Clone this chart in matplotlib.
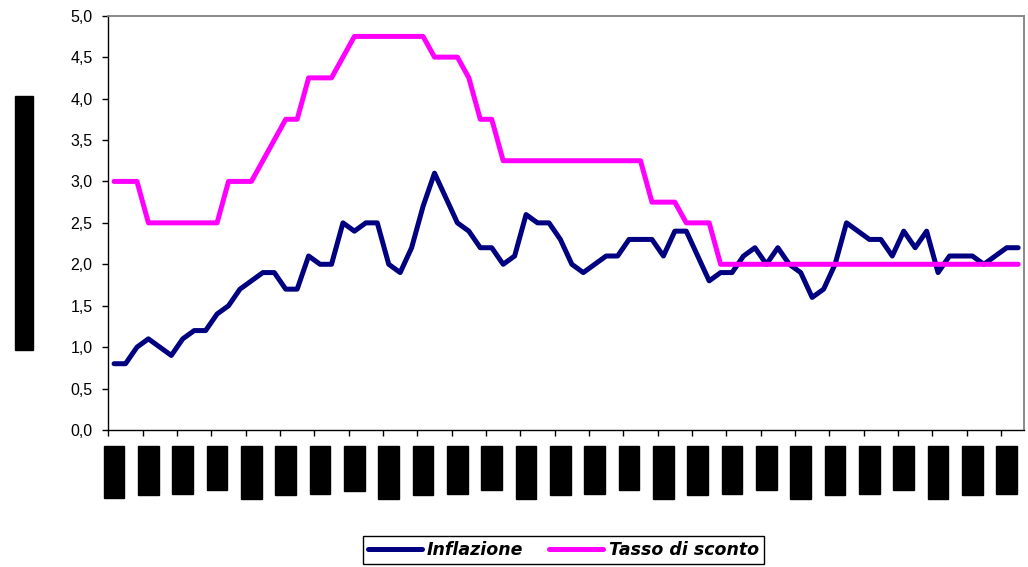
import numpy as np
import matplotlib
matplotlib.use('Agg')
import matplotlib.pyplot as plt
from matplotlib.ticker import FuncFormatter

# serie mensili da gennaio 1999 ad agosto 2005
mesi = ['gen', 'feb', 'mar', 'apr', 'mag', 'giu',
        'lug', 'ago', 'set', 'ott', 'nov', 'dic']
anni = ['99', '00', '01', '02', '03', '04', '05']
periodi = [f'{m}-{a}' for a in anni for m in mesi][:80]

inflazione = [
    0.8, 0.8, 1.0, 1.1, 1.0, 0.9, 1.1, 1.2, 1.2, 1.4, 1.5, 1.7,
    1.8, 1.9, 1.9, 1.7, 1.7, 2.1, 2.0, 2.0, 2.5, 2.4, 2.5, 2.5,
    2.0, 1.9, 2.2, 2.7, 3.1, 2.8, 2.5, 2.4, 2.2, 2.2, 2.0, 2.1,
    2.6, 2.5, 2.5, 2.3, 2.0, 1.9, 2.0, 2.1, 2.1, 2.3, 2.3, 2.3,
    2.1, 2.4, 2.4, 2.1, 1.8, 1.9, 1.9, 2.1, 2.2, 2.0, 2.2, 2.0,
    1.9, 1.6, 1.7, 2.0, 2.5, 2.4, 2.3, 2.3, 2.1, 2.4, 2.2, 2.4,
    1.9, 2.1, 2.1, 2.1, 2.0, 2.1, 2.2, 2.2,
]

tasso_sconto = [
    3.0, 3.0, 3.0, 2.5, 2.5, 2.5, 2.5, 2.5, 2.5, 2.5, 3.0, 3.0,
    3.0, 3.25, 3.5, 3.75, 3.75, 4.25, 4.25, 4.25, 4.5, 4.75, 4.75, 4.75,
    4.75, 4.75, 4.75, 4.75, 4.5, 4.5, 4.5, 4.25, 3.75, 3.75, 3.25, 3.25,
    3.25, 3.25, 3.25, 3.25, 3.25, 3.25, 3.25, 3.25, 3.25, 3.25, 3.25, 2.75,
    2.75, 2.75, 2.5, 2.5, 2.5, 2.0, 2.0, 2.0, 2.0, 2.0, 2.0, 2.0,
    2.0, 2.0, 2.0, 2.0, 2.0, 2.0, 2.0, 2.0, 2.0, 2.0, 2.0, 2.0,
    2.0, 2.0, 2.0, 2.0, 2.0, 2.0, 2.0, 2.0,
]

etichetta_y = 'Variazioni percentuali sul periodo corrispondente'

plt.rcParams['font.family'] = ['Liberation Sans', 'DejaVu Sans']

fig = plt.figure(figsize=(10.28, 5.67), dpi=100)
ax = fig.add_axes([0.1054, 0.2416, 0.8906, 0.7307])

x = np.arange(len(periodi))
ax.plot(x, inflazione, color='#000080', lw=3.6, label='Inflazione',
        solid_joinstyle='round', solid_capstyle='round')
ax.plot(x, tasso_sconto, color='#FF00FF', lw=3.6, label='Tasso di sconto',
        solid_joinstyle='round', solid_capstyle='round')

ax.set_xlim(-0.5, len(periodi) - 0.5)
ax.set_ylim(0, 5)
ax.set_yticks(np.arange(0, 5.01, 0.5))
ax.yaxis.set_major_formatter(FuncFormatter(lambda v, p: f'{v:.1f}'.replace('.', ',')))
ax.tick_params(axis='y', direction='out', length=4.5, width=1, labelsize=11.5, pad=7)

# tacche tra le categorie, etichette trimestrali
ax.set_xticks(np.arange(-0.5, len(periodi) - 1, 3))
ax.set_xticklabels([])
ax.tick_params(axis='x', which='major', direction='out', length=4, width=1)
ax.set_xticks(x[::3], minor=True)
ax.set_xticklabels(periodi[::3], minor=True, rotation=90, fontsize=10.5,
                   bbox=dict(boxstyle='square,pad=0.23', fc='black', ec='black'))
ax.tick_params(axis='x', which='minor', length=0, pad=14)

for s in ['top', 'right']:
    ax.spines[s].set_color('#808080')
    ax.spines[s].set_linewidth(1.3)
for s in ['left', 'bottom']:
    ax.spines[s].set_color('black')
    ax.spines[s].set_linewidth(1)

fig.text(24 / 1028, 1 - 223 / 567, etichetta_y, rotation=90, ha='center', va='center',
         fontsize=8.2, bbox=dict(boxstyle='square,pad=0.32', fc='black', ec='black'))

leg = ax.legend(loc='center', bbox_to_anchor=(0.548, 0.030), bbox_transform=fig.transFigure,
                ncol=2, fancybox=False, edgecolor='black', framealpha=1,
                prop=dict(family='DejaVu Sans', weight='bold', style='italic', size=12.5),
                handlelength=3.1, handletextpad=0.3, columnspacing=1.5,
                borderpad=0.3, borderaxespad=0)
leg.get_frame().set_linewidth(1)

fig.savefig('out.png', dpi=100)
